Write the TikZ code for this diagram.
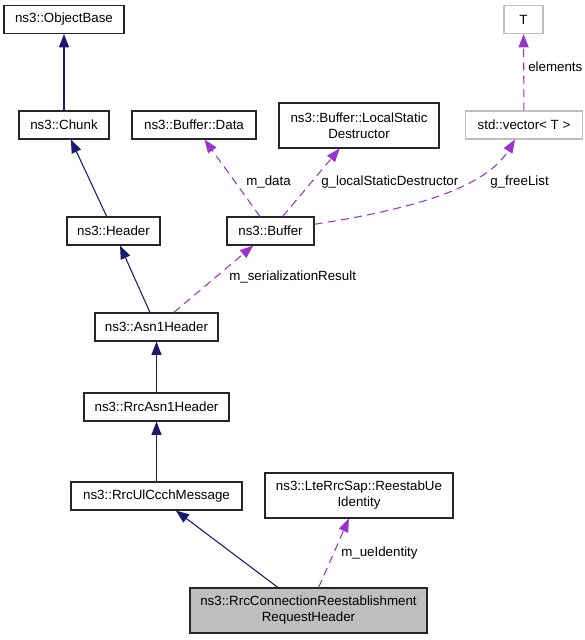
\documentclass[tikz,border=0pt]{standalone}
\usepackage{fontspec}
\setmainfont{Liberation Sans}
\usetikzlibrary{arrows.meta}
\definecolor{inhcol}{HTML}{191970}
\definecolor{usecol}{HTML}{9A32CD}
\definecolor{boxgray}{HTML}{BFBFBF}
\tikzset{cls/.style={draw=black!85,line width=0.8pt,fill=white,rectangle,minimum
height=21pt,inner sep=0pt,align=center,text=black},tpl/.style={cls,draw=boxgray},lbl/.style={inner
sep=0pt,anchor=west,text=black}}
\tikzstyle{inh} = [draw=inhcol, line width=0.8pt, -{Triangle[length=10pt,width=7.5pt]}]
\tikzstyle{use} = [draw=usecol, line width=0.8pt, dash pattern=on 6pt off 4pt, -{Triangle[length=10pt,width=7.5pt]}]

\begin{document}
\begin{tikzpicture}[x=0.75pt,y=-0.75pt]
		\useasboundingbox (0,0) rectangle (585,640);

		% classes
		\node at(64,19.5)[cls,minimum width=90pt](ObjectBase){ns3::ObjectBase};
		\node at(64,125)[cls,minimum width=67.5pt](Chunk){ns3::Chunk};
		\node at(194,125)[cls,minimum width=93pt](Data){ns3::Buffer::Data};
		\node at(359,125.5)[cls,minimum width=120pt,minimum height=33.75pt](Destructor){ns3::Buffer::LocalStatic\\Destructor};
		\node at(523.5,19.5)[tpl,minimum width=29.25pt](T){T};
		\node at(524,125)[tpl,minimum width=87.75pt](vector){std::vector\textless{} T \textgreater};
		\node at(113.5,231)[cls,minimum width=69.75pt](Header){ns3::Header};
		\node at(270.5,231)[cls,minimum width=65.25pt](Buffer){ns3::Buffer};
		\node at(156.5,327)[cls,minimum width=92.25pt](Asn1Header){ns3::Asn1Header};
		\node at(156.5,407)[cls,minimum width=108.75pt](RrcAsn1Header){ns3::RrcAsn1Header};
		\node at(156.5,496)[cls,minimum width=128.25pt](UlCcch){ns3::RrcUlCcchMessage};
		\node at(359,495.5)[cls,minimum width=141pt,minimum height=33.75pt](UeIdentity){ns3::LteRrcSap::ReestabUe\\Identity};
		\node at(308.5,610.5)[cls,fill=boxgray,minimum width=177.75pt,minimum height=33.75pt](Request){ns3::RrcConnectionReestablishment\\RequestHeader};

		% inheritance
		\draw[inh] (Chunk) -- (ObjectBase);
		\draw[inh] (Header) -- (Chunk);
		\draw[inh] (Asn1Header) -- (Header);
		\draw[inh] (RrcAsn1Header) -- (Asn1Header);
		\draw[inh] (UlCcch) -- (RrcAsn1Header);
		\draw[inh] (Request) -- (UlCcch);

		% members
		\draw[use] (vector) -- (T);
		\draw[use] (Buffer) -- (Data);
		\draw[use] (Buffer) -- (Destructor);
		\draw[use] (Buffer) .. controls (440,205) and (490,180) .. (vector);
		\draw[use] (Asn1Header) -- (Buffer);
		\draw[use] (Request) -- (UeIdentity);

		\node at(528,67)[lbl](elements){elements};
		\node at(246,182)[lbl](mdata){m\_data};
		\node at(321,182)[lbl](gdestr){g\_localStaticDestructor};
		\node at(490,182)[lbl](gfree){g\_freeList};
		\node at(229,277)[lbl](mser){m\_serializationResult};
		\node at(341,553)[lbl](mue){m\_ueIdentity};
	\end{tikzpicture}
\end{document}
